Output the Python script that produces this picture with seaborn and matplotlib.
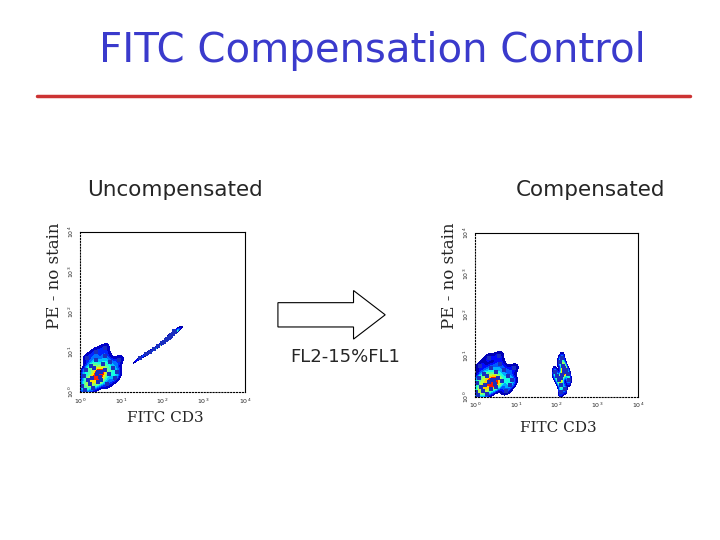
import matplotlib.pyplot as plt
import matplotlib as mpl
import seaborn as sns
from matplotlib.patches import FancyArrow
import matplotlib.lines as mlines

sns.set_style('white')

# events, in log decades (0 = 10^0 ... 4 = 10^4)
unc_neg_x = [0.41, 0.3, 0.5, 0.2, 0.6, 0.35, 0.45, 0.1, 0.7, 0.25, 0.55, 0.4, 0.15, 0.8, 0.32, 0.48,
             0.62, 0.05, 0.9, 0.38, 0.28, 0.52, 0.72, 0.18, 0.44, 0.6, 0.85, 0.95, 0.12, 0.66]
unc_neg_y = [0.44, 0.35, 0.5, 0.3, 0.55, 0.6, 0.25, 0.4, 0.45, 0.2, 0.7, 0.8, 0.55, 0.6, 0.1, 0.38,
             0.9, 0.15, 0.5, 1.0, 0.65, 0.3, 0.75, 0.85, 0.5, 1.1, 0.35, 0.8, 0.05, 0.2]
unc_pos_x = [2.2, 2.25, 2.15, 2.3, 2.1, 2.05, 2.18, 2.28, 2.0, 1.9, 1.8, 1.7, 1.6, 1.45, 2.22, 2.12]
unc_pos_y = [1.4, 1.45, 1.35, 1.5, 1.3, 1.25, 1.38, 1.52, 1.22, 1.15, 1.08, 1.0, 0.95, 0.85, 1.42, 1.33]

cmp_neg_x = [0.35, 0.25, 0.45, 0.15, 0.55, 0.3, 0.4, 0.05, 0.65, 0.2, 0.5, 0.38, 0.1, 0.8, 0.28, 0.48,
             0.6, 0.02, 0.9, 0.33, 0.22, 0.52, 0.7, 0.12, 0.42, 0.58, 0.85, 0.95, 0.08, 0.75]
cmp_neg_y = [0.36, 0.3, 0.4, 0.25, 0.45, 0.5, 0.2, 0.35, 0.38, 0.15, 0.6, 0.7, 0.45, 0.5, 0.08, 0.32,
             0.8, 0.12, 0.4, 0.95, 0.55, 0.25, 0.65, 0.75, 0.42, 1.0, 0.3, 0.7, 0.04, 0.15]
cmp_pos_x = [2.14, 2.1, 2.18, 2.05, 2.22, 2.12, 2.16, 2.0, 2.28, 2.08, 2.2, 1.95, 2.3, 2.14, 2.1, 2.18]
cmp_pos_y = [0.53, 0.45, 0.6, 0.4, 0.65, 0.3, 0.75, 0.5, 0.55, 0.85, 0.2, 0.6, 0.4, 0.95, 0.12, 0.7]

tick_pos = [0, 1, 2, 3, 4]
tick_lab = ['10$^0$', '10$^1$', '10$^2$', '10$^3$', '10$^4$']

fig = plt.figure(figsize=(7.2, 5.4), dpi=100)
fig.text(0.517, 0.905, 'FITC Compensation Control', ha='center', va='center',
         fontsize=29, color='#3a3acc')
fig.add_artist(mlines.Line2D([0.051, 0.958], [0.822, 0.822], color='#cc3333', lw=2.5))
fig.text(0.243, 0.648, 'Uncompensated', ha='center', va='center', fontsize=15.5)
fig.text(0.82, 0.648, 'Compensated', ha='center', va='center', fontsize=15.5)

jet = mpl.colormaps['jet']


def panel(rect, nx, ny, px, py):
    ax = fig.add_axes(rect)
    for xs, ys in [(nx, ny), (px, py)]:
        sns.kdeplot(x=xs, y=ys, fill=True, cmap=jet, levels=10, thresh=0.08,
                    bw_adjust=0.7, ax=ax)
        ax.scatter(xs, ys, s=5, marker='s', color='#1a2fbf', lw=0)
    ax.set_xlim(0, 4)
    ax.set_ylim(0, 4)
    ax.set_xticks(tick_pos)
    ax.set_yticks(tick_pos)
    ax.set_xticklabels(tick_lab, fontsize=4.5)
    ax.set_yticklabels(tick_lab, fontsize=4.5, rotation=90, va='center')
    ax.tick_params(length=0, pad=3)
    ax.set_xlabel('')
    ax.set_ylabel('')
    for s in ax.spines.values():
        s.set_linewidth(0.8)
        s.set_color('black')
    ax.spines['bottom'].set_linestyle(':')
    ax.spines['left'].set_linestyle(':')
    return ax


panel([0.111, 0.274, 0.229, 0.296], unc_neg_x, unc_neg_y, unc_pos_x, unc_pos_y)
panel([0.66, 0.265, 0.226, 0.304], cmp_neg_x, cmp_neg_y, cmp_pos_x, cmp_pos_y)

fig.text(0.076, 0.49, 'PE - no stain', rotation=90, ha='center', va='center',
         family='DejaVu Serif', fontsize=12)
fig.text(0.624, 0.49, 'PE - no stain', rotation=90, ha='center', va='center',
         family='DejaVu Serif', fontsize=12)
fig.text(0.229, 0.226, 'FITC CD3', ha='center', va='center', family='DejaVu Serif', fontsize=11)
fig.text(0.775, 0.207, 'FITC CD3', ha='center', va='center', family='DejaVu Serif', fontsize=11)

fig.add_artist(FancyArrow(0.386, 0.417, 0.105, 0, width=0.045, head_width=0.09,
                          head_length=0.044, length_includes_head=False,
                          transform=fig.transFigure, facecolor='white',
                          edgecolor='black', lw=0.8))
fig.text(0.48, 0.338, 'FL2-15%FL1', ha='center', va='center', fontsize=13)

plt.savefig('out.png', dpi=100)
